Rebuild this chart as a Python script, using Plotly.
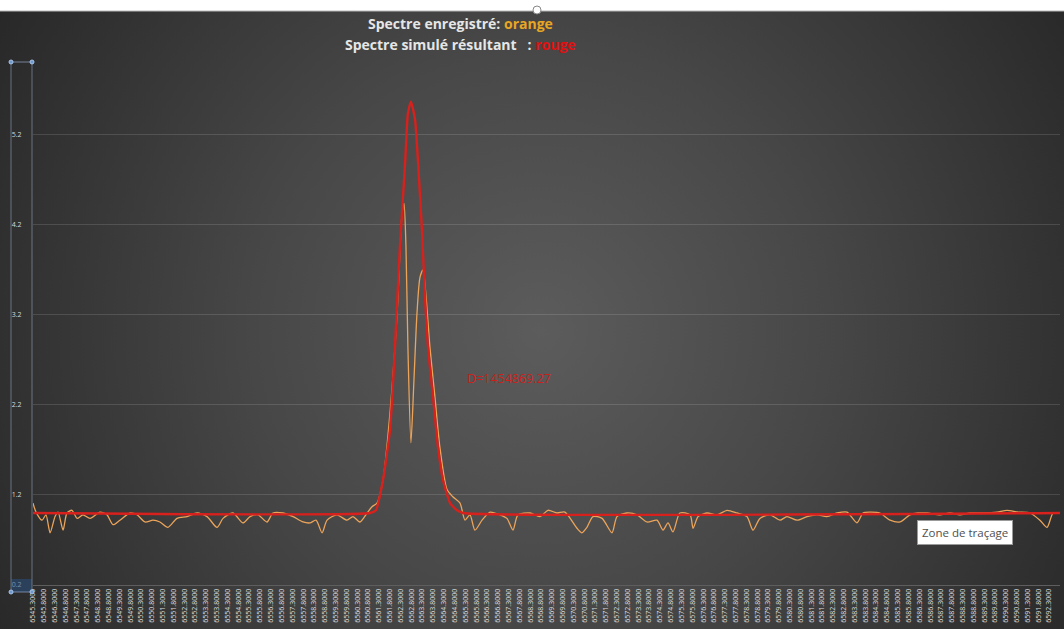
import base64
import plotly.graph_objects as go

# ---------------- data ----------------
ORANGE_WL = [6545.30, 6545.44, 6545.72, 6545.90, 6546.09, 6546.32, 6546.46, 6546.69, 6546.87, 6547.10,
             6547.34, 6547.61, 6547.94, 6548.40, 6548.72, 6549.00, 6549.32, 6549.79, 6550.11, 6550.48,
             6550.85, 6551.17, 6551.54, 6551.96, 6552.42, 6552.89, 6553.35, 6553.81, 6554.09, 6554.55,
             6555.01, 6555.34, 6555.71, 6556.12, 6556.40, 6556.86, 6557.33, 6557.79, 6558.11, 6558.39,
             6558.67, 6558.90, 6559.36, 6559.82, 6560.10, 6560.42, 6560.75, 6560.98, 6561.21, 6561.49,
             6561.81, 6562.14, 6562.37, 6562.46, 6562.55, 6562.64, 6562.78, 6562.92, 6563.06, 6563.20,
             6563.34, 6563.48, 6563.66, 6563.89, 6564.12, 6564.45, 6564.72, 6565.05, 6565.28, 6565.51,
             6565.74, 6566.07, 6566.44, 6566.90, 6567.22, 6567.50, 6567.73, 6568.29, 6568.75, 6569.12,
             6569.54, 6569.90, 6570.46, 6570.69, 6570.92, 6571.20, 6571.62, 6572.08, 6572.31, 6572.77,
             6573.24, 6573.70, 6574.16, 6574.44, 6574.67, 6574.90, 6575.22, 6575.69, 6575.83, 6576.06,
             6576.47, 6576.94, 6577.40, 6577.86, 6578.32, 6578.60, 6578.92, 6579.39, 6579.85, 6580.17,
             6580.64, 6581.10, 6581.56, 6582.02, 6582.49, 6582.95, 6583.41, 6583.69, 6584.01, 6584.47,
             6584.94, 6585.40, 6585.86, 6586.23, 6586.65, 6587.25, 6587.71, 6588.17, 6588.64, 6589.33,
             6589.89, 6590.35, 6590.86, 6591.41, 6591.87, 6592.20, 6592.48, 6592.80]
ORANGE_VAL = [1.11, 1.01, 0.92, 0.98, 0.78, 0.96, 1.01, 0.81, 1.00, 1.03,
              0.94, 0.98, 0.94, 1.01, 0.98, 0.87, 0.92, 1.00, 0.98, 0.90,
              0.92, 0.90, 0.84, 0.94, 0.96, 1.00, 0.96, 0.84, 0.94, 1.00,
              0.89, 0.96, 0.98, 0.90, 1.00, 1.00, 0.96, 0.90, 0.89, 0.92,
              0.78, 0.92, 0.98, 0.92, 0.96, 0.90, 1.00, 1.07, 1.11, 1.37,
              2.11, 3.22, 4.33, 4.44, 3.96, 2.84, 1.78, 2.48, 3.22, 3.62,
              3.70, 3.40, 2.84, 2.29, 1.73, 1.26, 1.18, 1.11, 0.92, 0.98,
              0.81, 0.92, 1.01, 0.98, 0.94, 0.81, 0.98, 1.00, 0.96, 1.03,
              1.00, 1.01, 0.83, 0.78, 0.84, 0.96, 0.94, 0.78, 0.96, 1.00,
              0.98, 0.90, 0.92, 0.81, 0.89, 0.79, 1.00, 0.98, 0.83, 0.96,
              1.00, 0.98, 1.03, 1.00, 0.96, 0.81, 0.94, 0.98, 0.92, 0.96,
              0.92, 0.96, 0.98, 0.96, 1.00, 1.01, 0.89, 1.00, 1.01, 1.00,
              0.92, 0.90, 0.98, 1.00, 1.00, 0.98, 1.00, 0.98, 1.00, 1.00,
              1.01, 1.03, 1.01, 1.00, 0.92, 0.84, 1.00, 1.00]

RED_WL = [6545.30, 6560.89, 6561.16, 6561.49, 6561.81, 6562.04, 6562.27, 6562.51, 6562.64, 6562.78,
          6562.97, 6563.11, 6563.29, 6563.43, 6563.57, 6563.80, 6564.03, 6564.26, 6564.59, 6564.91,
          6565.19, 6592.80]
RED_VAL = [1.00, 1.00, 1.03, 1.37, 1.92, 2.84, 3.96, 4.89, 5.44, 5.57,
           5.37, 4.89, 4.14, 3.40, 2.84, 2.29, 1.73, 1.37, 1.11, 1.03,
           1.00, 1.00]

X_TICKS = [6545.3, 6545.8, 6546.3, 6546.8, 6547.3, 6547.8, 6548.3, 6548.8, 6549.3, 6549.8,
           6550.3, 6550.8, 6551.3, 6551.8, 6552.3, 6552.8, 6553.3, 6553.8, 6554.3, 6554.8,
           6555.3, 6555.8, 6556.3, 6556.8, 6557.3, 6557.8, 6558.3, 6558.8, 6559.3, 6559.8,
           6560.3, 6560.8, 6561.3, 6561.8, 6562.3, 6562.8, 6563.3, 6563.8, 6564.3, 6564.8,
           6565.3, 6565.8, 6566.3, 6566.8, 6567.3, 6567.8, 6568.3, 6568.8, 6569.3, 6569.8,
           6570.3, 6570.8, 6571.3, 6571.8, 6572.3, 6572.8, 6573.3, 6573.8, 6574.3, 6574.8,
           6575.3, 6575.8, 6576.3, 6576.8, 6577.3, 6577.8, 6578.3, 6578.8, 6579.3, 6579.8,
           6580.3, 6580.8, 6581.3, 6581.8, 6582.3, 6582.8, 6583.3, 6583.8, 6584.3, 6584.8,
           6585.3, 6585.8, 6586.3, 6586.8, 6587.3, 6587.8, 6588.3, 6588.8, 6589.3, 6589.8,
           6590.3, 6590.8, 6591.3, 6591.8, 6592.3, 6592.8]
X_TICK_LABELS = [f"{v:.4f}" for v in X_TICKS]
Y_TICKS = [0.2, 1.2, 2.2, 3.2, 4.2, 5.2]
Y_TICK_LABELS = ["0.2", "1.2", "2.2", "3.2", "4.2", "5.2"]

TITLE_1 = 'Spectre enregistré: <span style="color:#e8a623">orange</span>'
TITLE_2 = 'Spectre simulé résultant   : <span style="color:#e01010">rouge</span>'
D_TEXT = "D=1454869.27"
TIP_TEXT = "Zone de traçage"

# ---------------- geometry helpers (pixel -> paper) ----------------
W, H = 1064, 629
L, R, T, B = 33, 1060, 62, 585


def px(x):
    return (x - L) / (R - L)


def py(y):
    return (B - y) / (B - T)


# ---------------- background gradient ----------------
svg = ('<svg xmlns="http://www.w3.org/2000/svg" width="1064" height="618">'
       '<defs><radialGradient id="g" cx="540" cy="320" r="640" gradientUnits="userSpaceOnUse">'
       '<stop offset="0" stop-color="#5c5c5c"/><stop offset="0.45" stop-color="#474747"/>'
       '<stop offset="1" stop-color="#272727"/></radialGradient></defs>'
       '<rect width="1064" height="618" fill="url(#g)"/></svg>')
svg_uri = "data:image/svg+xml;base64," + base64.b64encode(svg.encode()).decode()

fig = go.Figure()
fig.add_trace(go.Scatter(x=ORANGE_WL, y=ORANGE_VAL, mode="lines",
                         line=dict(color="#eba45a", width=1.3, shape="spline", smoothing=0.7),
                         name="enregistré", hoverinfo="skip"))
fig.add_trace(go.Scatter(x=RED_WL, y=RED_VAL, mode="lines",
                         line=dict(color="#d8201c", width=2.4, shape="spline", smoothing=0.5),
                         name="simulé", hoverinfo="skip"))

shapes = [
    # top separator
    dict(type="line", xref="paper", yref="paper", x0=px(0), x1=px(W), y0=py(11), y1=py(11),
         line=dict(color="#b8b8b8", width=1)),
    # selection frame of the axis
    dict(type="rect", xref="paper", yref="paper", x0=px(11), x1=px(32), y0=py(579), y1=py(592),
         fillcolor="rgba(40,80,130,0.55)", line=dict(width=0)),
    dict(type="line", xref="paper", yref="paper", x0=px(11), x1=px(11), y0=py(62), y1=py(592),
         line=dict(color="rgba(150,170,200,0.55)", width=1)),
    dict(type="line", xref="paper", yref="paper", x0=px(32), x1=px(32), y0=py(62), y1=py(592),
         line=dict(color="rgba(150,170,200,0.55)", width=1)),
    dict(type="line", xref="paper", yref="paper", x0=px(11), x1=px(32), y0=py(62), y1=py(62),
         line=dict(color="rgba(150,170,200,0.7)", width=1)),
    dict(type="line", xref="paper", yref="paper", x0=px(11), x1=px(32), y0=py(592), y1=py(592),
         line=dict(color="rgba(150,170,200,0.7)", width=1)),
]
for cx, cy in [(11, 62), (32, 62), (11, 592), (32, 592)]:
    shapes.append(dict(type="circle", xref="paper", yref="paper",
                       x0=px(cx - 2), x1=px(cx + 2), y0=py(cy + 2), y1=py(cy - 2),
                       fillcolor="#6e9ad0", line=dict(color="#a8c4e8", width=1)))
# handle at top
shapes.append(dict(type="circle", xref="paper", yref="paper",
                   x0=px(533), x1=px(541), y0=py(14), y1=py(6),
                   fillcolor="white", line=dict(color="#888888", width=1)))

annotations = [
    dict(text="<b>" + TITLE_1 + "</b>", xref="paper", yref="paper", x=px(460), y=py(24),
         showarrow=False, font=dict(family="Open Sans", size=14, color="#e6e6e6"),
         xanchor="center", yanchor="middle"),
    dict(text="<b>" + TITLE_2 + "</b>", xref="paper", yref="paper", x=px(460), y=py(44),
         showarrow=False, font=dict(family="Open Sans", size=14, color="#e6e6e6"),
         xanchor="center", yanchor="middle"),
    dict(text=D_TEXT, xref="paper", yref="paper", x=px(465), y=py(378),
         showarrow=False, font=dict(family="Open Sans", size=12.5, color="#cf1f1c"),
         xanchor="left", yanchor="middle"),
    dict(text=TIP_TEXT, xref="paper", yref="paper", x=px(965), y=py(532),
         showarrow=False, font=dict(family="Open Sans", size=11.5, color="#505050"),
         bgcolor="white", bordercolor="#9a9a9a", borderwidth=1, borderpad=4,
         xanchor="center", yanchor="middle"),
]

fig.update_layout(
    width=W, height=H,
    margin=dict(l=L, r=W - R, t=T, b=H - B, pad=0),
    paper_bgcolor="white",
    plot_bgcolor="rgba(0,0,0,0)",
    showlegend=False,
    shapes=shapes,
    annotations=annotations,
    images=[dict(source=svg_uri, xref="paper", yref="paper",
                 x=px(0), y=py(11), sizex=W / (R - L), sizey=(H - 11) / (B - T),
                 xanchor="left", yanchor="top", sizing="stretch", layer="below")],
    xaxis=dict(range=[X_TICKS[0], X_TICKS[-1]], tickmode="array", tickvals=X_TICKS,
               ticktext=X_TICK_LABELS, tickangle=-90, showgrid=False, zeroline=False,
               tickfont=dict(family="Open Sans", size=7, color="#dcdcdc"),
               ticks="", showline=True, linecolor="#5e5e5e", linewidth=1, automargin=False),
    yaxis=dict(range=[0.2, 6.01], tickmode="array", tickvals=Y_TICKS, ticktext=Y_TICK_LABELS,
               showgrid=True, gridcolor="rgba(255,255,255,0.13)", gridwidth=1, zeroline=False,
               tickfont=dict(family="Open Sans", size=7, color="#d8d8d8"),
               ticks="outside", ticklen=9, tickcolor="rgba(0,0,0,0)", showline=False,
               automargin=False),
)

fig.write_html("out.html", config={"displayModeBar": False},
               post_script="document.body.style.margin='0';document.body.style.padding='0';"
                           "document.documentElement.style.overflow='hidden';")
